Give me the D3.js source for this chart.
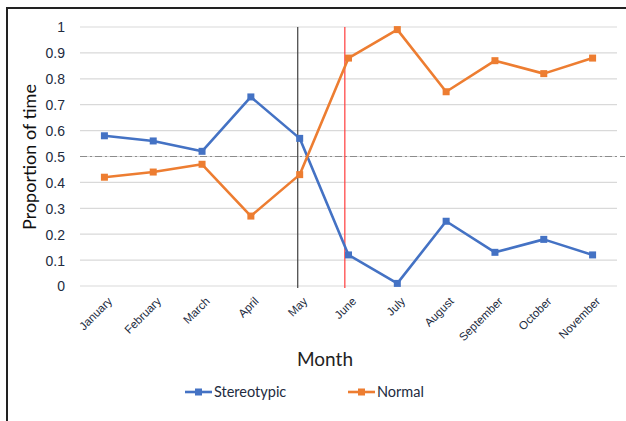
<!DOCTYPE html>
<html>
<head>
<meta charset="utf-8">
<script src="https://cdn.jsdelivr.net/npm/d3@7"></script>
<style>
  html, body { margin: 0; padding: 0; background: #fff; }
  svg { display: block; font-family: Lato, "Open Sans", sans-serif; }
</style>
</head>
<body>
<svg id="chart" width="626" height="421"></svg>
<script>
// Monthly proportion of time spent in each behaviour
const months = ["January", "February", "March", "April", "May", "June",
                "July", "August", "September", "October", "November"];
const stereotypic = [0.58, 0.56, 0.52, 0.73, 0.57, 0.12, 0.01, 0.25, 0.13, 0.18, 0.12];
const normal      = [0.42, 0.44, 0.47, 0.27, 0.43, 0.88, 0.99, 0.75, 0.87, 0.82, 0.88];
const yTicks = [0, 0.1, 0.2, 0.3, 0.4, 0.5, 0.6, 0.7, 0.8, 0.9, 1];
const seriesNames = ["Stereotypic", "Normal"];
const seriesColors = ["#4472C4", "#ED7D31"];
// Reference lines: horizontal at 0.5, vertical markers near May and June (month index)
const refLevel = 0.5;
const markerIdx = [3.96, 4.925];
const markerColors = ["#404040", "#ff3b3b"];

const svg = d3.select("#chart");
const plotLeft = 80, plotRight = 617, plotTop = 27, plotBottom = 286;
const labelColor = "#222b40";

const x = d3.scaleLinear().domain([-0.5, months.length - 0.5]).range([plotLeft, plotRight]);
const y = d3.scaleLinear().domain([0, 1]).range([plotBottom, plotTop]);

// Outer frame (top and left edges)
svg.append("path")
  .attr("d", "M7,421 L7,8 L626,8")
  .attr("fill", "none").attr("stroke", "#222").attr("stroke-width", 2);

// Gridlines
svg.append("g").selectAll("line").data(yTicks).join("line")
  .attr("x1", plotLeft).attr("x2", plotRight)
  .attr("y1", d => y(d)).attr("y2", d => y(d))
  .attr("stroke", "#d9d9d9").attr("stroke-width", 1.2);

// Y axis labels
const yAxis = d3.axisLeft(y).tickValues(yTicks).tickSize(0).tickPadding(0)
  .tickFormat(d => d3.format("")(+d.toFixed(1)));
svg.append("g").attr("transform", `translate(${plotLeft - 15},0)`).call(yAxis)
  .call(g => g.select(".domain").remove())
  .call(g => g.selectAll("text").attr("fill", labelColor).attr("font-size", 14).attr("dy", "0.35em"));

// X axis labels (rotated)
const xAxis = d3.axisBottom(x).tickValues(d3.range(months.length)).tickSize(0).tickFormat(i => months[i]);
svg.append("g").attr("transform", `translate(0,${plotBottom})`).call(xAxis)
  .call(g => g.select(".domain").remove())
  .call(g => g.selectAll("text")
    .attr("fill", labelColor).attr("font-size", 11.5)
    .attr("text-anchor", "end").attr("y", 0).attr("dy", "0")
    .attr("transform", "translate(8,16) rotate(-45)"));

// Dash-dot reference line at 0.5
svg.append("line")
  .attr("x1", plotLeft).attr("x2", 625)
  .attr("y1", y(refLevel)).attr("y2", y(refLevel))
  .attr("stroke", "#8c8c8c").attr("stroke-width", 1)
  .attr("stroke-dasharray", "7,3,2,3");

// Vertical marker lines
svg.append("g").selectAll("line").data(markerIdx).join("line")
  .attr("x1", d => x(d)).attr("x2", d => x(d))
  .attr("y1", y(1)).attr("y2", plotBottom + 2)
  .attr("stroke", (d, i) => markerColors[i]).attr("stroke-width", 1.2);

// Series lines and square markers
const line = d3.line().x((d, i) => x(i)).y(d => y(d));
[stereotypic, normal].forEach((vals, s) => {
  const g = svg.append("g");
  g.append("path").datum(vals).attr("d", line)
    .attr("fill", "none").attr("stroke", seriesColors[s]).attr("stroke-width", 2.6)
    .attr("stroke-linejoin", "round");
  g.selectAll("rect").data(vals).join("rect")
    .attr("x", (d, i) => x(i) - 3.5).attr("y", d => y(d) - 3.5)
    .attr("width", 7).attr("height", 7).attr("fill", seriesColors[s]);
});

// Axis titles
svg.append("text").attr("x", 325).attr("y", 366).attr("text-anchor", "middle")
  .attr("font-size", 19).attr("fill", "#222").text("Month");
svg.append("text").attr("transform", "translate(36,157) rotate(-90)")
  .attr("text-anchor", "middle").attr("font-size", 18).attr("fill", "#111")
  .text("Proportion of time");

// Legend
const legendX = [185, 348];
seriesNames.forEach((name, s) => {
  const g = svg.append("g").attr("transform", `translate(${legendX[s]},392)`);
  g.append("line").attr("x1", 0).attr("x2", 27).attr("y1", 0).attr("y2", 0)
    .attr("stroke", seriesColors[s]).attr("stroke-width", 2.6);
  g.append("rect").attr("x", 10).attr("y", -3.5).attr("width", 7).attr("height", 7)
    .attr("fill", seriesColors[s]);
  g.append("text").attr("x", 29).attr("y", 0).attr("dy", "0.35em")
    .attr("font-size", 14.5).attr("fill", labelColor).text(name);
});
</script>
</body>
</html>
